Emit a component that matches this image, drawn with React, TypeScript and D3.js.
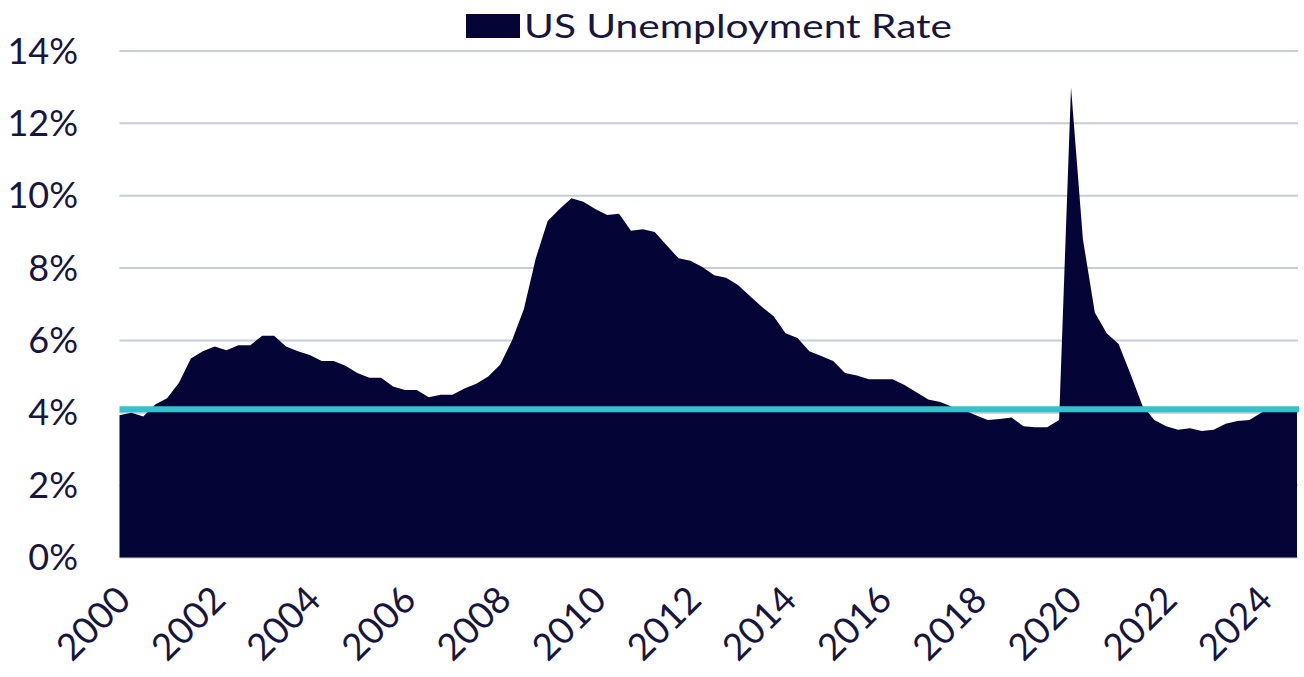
import { useEffect, useRef } from "react";
import * as d3 from "d3";

// Quarterly average US unemployment rate (%), 2000 Q2 through 2025 Q1
const firstQuarter = 2000.25;
const rates2000s = [
  3.93, 4.0, 3.9,
  4.23, 4.4, 4.83, 5.5,
  5.7, 5.83, 5.73, 5.87,
  5.87, 6.13, 6.13, 5.83,
  5.7, 5.6, 5.43, 5.43,
  5.3, 5.1, 4.97, 4.97,
  4.73, 4.63, 4.63, 4.43,
  4.5, 4.5, 4.67, 4.8,
  5.0, 5.33, 6.0, 6.87,
  8.27, 9.3, 9.63, 9.93,
];
const rates2010s = [
  9.83, 9.63, 9.47, 9.5,
  9.03, 9.07, 9.0, 8.63,
  8.27, 8.2, 8.03, 7.8,
  7.73, 7.53, 7.23, 6.93,
  6.67, 6.2, 6.07, 5.7,
  5.57, 5.43, 5.1, 5.03,
  4.93, 4.93, 4.93, 4.77,
  4.57, 4.37, 4.3, 4.17,
  4.07, 3.93, 3.8, 3.83,
  3.87, 3.63, 3.6, 3.6,
];
const rates2020s = [
  3.8, 13.0, 8.8, 6.77,
  6.2, 5.9, 5.07, 4.2,
  3.8, 3.63, 3.53, 3.57,
  3.5, 3.53, 3.7, 3.77,
  3.8, 4.0, 4.17, 4.13,
  4.1,
];
const rates = [...rates2000s, ...rates2010s, ...rates2020s];

// latest reading, drawn as the horizontal reference line
const currentRate = 4.1;

const yTicks = [0, 2, 4, 6, 8, 10, 12, 14];
const yearLabels = [2000, 2002, 2004, 2006, 2008, 2010, 2012, 2014, 2016, 2018, 2020, 2022, 2024];
const seriesName = "US Unemployment Rate";

const width = 1304;
const height = 677;

const App = () => {
  const ref = useRef<SVGSVGElement>(null);

  useEffect(() => {
    const svg = d3.select(ref.current);
    svg.selectAll("*").remove();

    const points = rates.map((v, i) => ({ t: firstQuarter + i * 0.25, v }));

    const x = d3
      .scaleLinear()
      .domain([firstQuarter, firstQuarter + (rates.length - 1) * 0.25])
      .range([119.5, 1297]);
    const y = d3.scaleLinear().domain([0, 14]).range([557.5, 51]);

    const font = "Lato, 'Open Sans', sans-serif";
    const textColor = "#16163e";

    // gridlines
    svg
      .append("g")
      .selectAll("line")
      .data(yTicks)
      .enter()
      .append("line")
      .attr("x1", 119.5)
      .attr("x2", 1298)
      .attr("y1", (d) => y(d))
      .attr("y2", (d) => y(d))
      .attr("stroke", "#c6ccd8")
      .attr("stroke-width", 2);

    // area
    const area = d3
      .area<{ t: number; v: number }>()
      .x((d) => x(d.t))
      .y0(y(0))
      .y1((d) => y(d.v));

    svg.append("path").datum(points).attr("d", area).attr("fill", "#050436");

    // current rate line
    svg
      .append("line")
      .attr("x1", 119.5)
      .attr("x2", 1299)
      .attr("y1", y(currentRate))
      .attr("y2", y(currentRate))
      .attr("stroke", "#36c1cd")
      .attr("stroke-width", 6);

    // y axis labels
    svg
      .append("g")
      .selectAll("text")
      .data(yTicks)
      .enter()
      .append("text")
      .attr("x", 78)
      .attr("y", (d) => y(d) + 12.5)
      .attr("text-anchor", "end")
      .attr("font-family", font)
      .attr("font-size", 36)
      .attr("fill", textColor)
      .text((d) => `${d}%`);

    // x axis labels, rotated
    svg
      .append("g")
      .selectAll("text")
      .data(yearLabels)
      .enter()
      .append("text")
      .attr("transform", (d) => `translate(${x(d) + 25},602) rotate(-45)`)
      .attr("text-anchor", "end")
      .attr("font-family", font)
      .attr("font-size", 37)
      .attr("fill", textColor)
      .text((d) => d);

    // legend
    svg
      .append("rect")
      .attr("x", 466)
      .attr("y", 14)
      .attr("width", 54)
      .attr("height", 24)
      .attr("fill", "#050436");

    svg
      .append("text")
      .attr("x", 524)
      .attr("y", 38)
      .attr("font-family", font)
      .attr("font-size", 32)
      .attr("fill", textColor)
      .attr("textLength", 428)
      .attr("lengthAdjust", "spacingAndGlyphs")
      .text(seriesName);
  }, []);

  return (
    <svg
      ref={ref}
      width={width}
      height={height}
      style={{ position: "absolute", left: 0, top: 0, background: "#fff" }}
    />
  );
};

export default App;
